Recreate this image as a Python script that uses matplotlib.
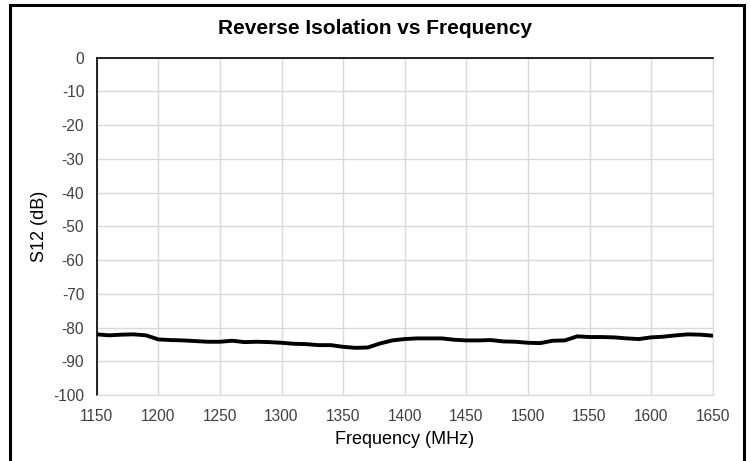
import numpy as np
import matplotlib as mpl
mpl.use('Agg')
import matplotlib.pyplot as plt
from matplotlib.patches import Rectangle

plt.rcParams['font.family'] = ['Liberation Sans', 'DejaVu Sans']
plt.rcParams['axes.unicode_minus'] = False

freq_mhz = [1150, 1160, 1170, 1180, 1190, 1200, 1210, 1220, 1230, 1240,
            1250, 1260, 1270, 1280, 1290, 1300, 1310, 1320, 1330, 1340,
            1350, 1360, 1370, 1380, 1390, 1400, 1410, 1420, 1430, 1440,
            1450, 1460, 1470, 1480, 1490, 1500, 1510, 1520, 1530, 1540,
            1550, 1560, 1570, 1580, 1590, 1600, 1610, 1620, 1630, 1640, 1650]
s12_db = [-82.0, -82.3, -82.1, -82.0, -82.3, -83.5, -83.7, -83.8, -84.0, -84.2,
          -84.2, -83.9, -84.3, -84.2, -84.3, -84.5, -84.8, -84.9, -85.2, -85.2,
          -85.7, -86.0, -85.9, -84.7, -83.8, -83.4, -83.2, -83.2, -83.2, -83.6,
          -83.8, -83.8, -83.7, -84.1, -84.2, -84.5, -84.6, -83.9, -83.8, -82.6,
          -82.8, -82.8, -82.9, -83.2, -83.4, -82.9, -82.7, -82.3, -82.0, -82.1, -82.4]

x_ticks = np.arange(1150, 1651, 50)
y_ticks = np.arange(-100, 1, 10)

fig = plt.figure(figsize=(7.51, 4.61), dpi=100)
ax = fig.add_axes([0.1288, 0.143, 0.8202, 0.732])

# outer chart frame (bottom edge runs off the image)
fig.patches.append(Rectangle((0.0127, -0.05), 0.978, 1.039, transform=fig.transFigure,
                             fill=False, edgecolor='black', linewidth=2.2))

ax.plot(freq_mhz, s12_db, color='black', linewidth=2.8, solid_joinstyle='round')

ax.set_xlim(1150, 1650)
ax.set_ylim(-100, 0)
ax.set_xticks(x_ticks)
ax.set_yticks(y_ticks)
ax.grid(True, color='#d9d9d9', linewidth=1)
ax.set_axisbelow(True)
ax.tick_params(length=0, labelsize=11.2, labelcolor='#404040')
ax.tick_params(axis='x', pad=10)
ax.tick_params(axis='y', pad=9)

for side in ['bottom', 'right']:
    ax.spines[side].set_color('#d9d9d9')
for side in ['top', 'left']:
    ax.spines[side].set_color('black')
    ax.spines[side].set_linewidth(1.2)

fig.text(0.5, 0.939, 'Reverse Isolation vs Frequency', fontsize=15, fontweight='bold',
         ha='center', va='center')
ax.set_xlabel('Frequency (MHz)', fontsize=13, labelpad=5)
ax.set_ylabel('S12 (dB)', fontsize=13, labelpad=4)

fig.savefig('out.png', dpi=100)
